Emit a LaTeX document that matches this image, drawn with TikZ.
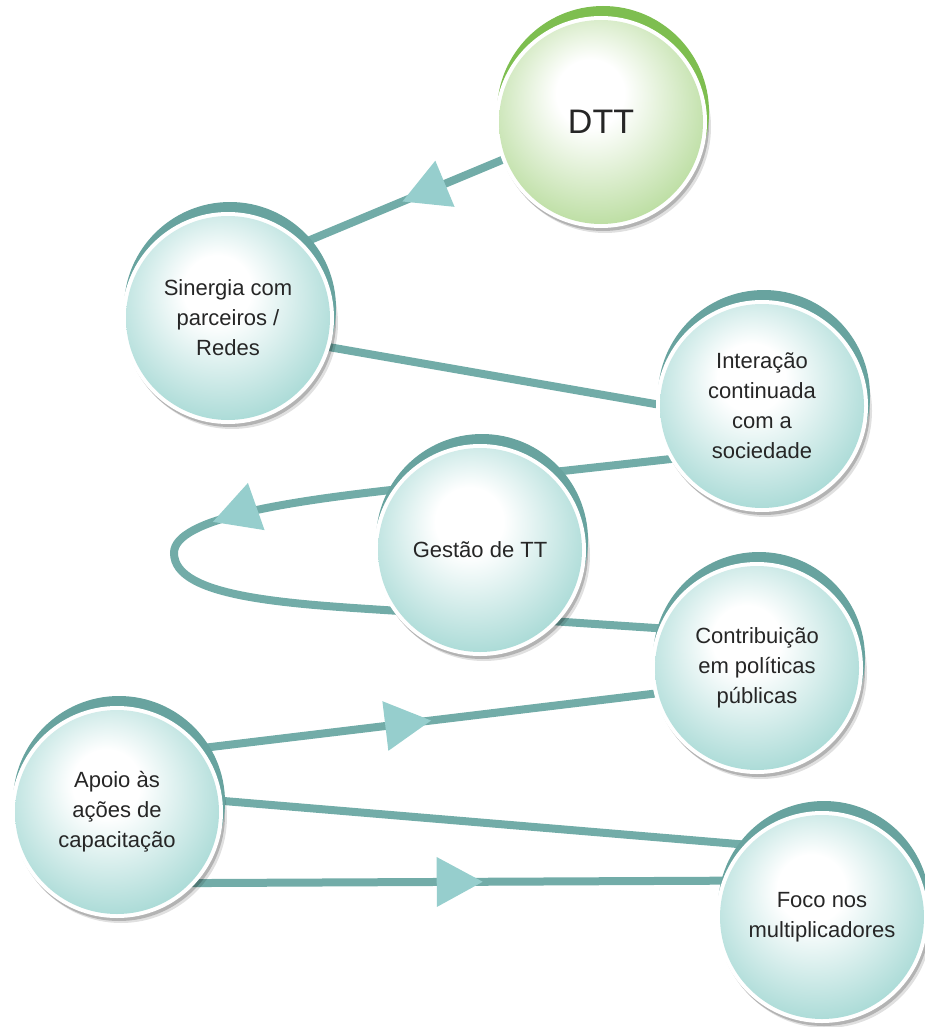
\documentclass[tikz,border=0pt]{standalone}
\usepackage{fontspec}
\setmainfont{Liberation Sans}
\usetikzlibrary{backgrounds,decorations.markings}

\definecolor{linkteal}{RGB}{114,172,168}
\definecolor{trifill}{RGB}{150,206,205}
\definecolor{ballteal}{RGB}{150,210,205}
\definecolor{crescteal}{RGB}{104,163,159}
\definecolor{ballgreen}{RGB}{172,214,140}
\definecolor{crescgreen}{RGB}{126,190,80}

\pgfdeclareradialshading{tealball}{\pgfpoint{-3bp}{8bp}}{color(0bp)=(white); color(8bp)=(white); color(33bp)=(ballteal); color(50bp)=(ballteal)}
\pgfdeclareradialshading{greenball}{\pgfpoint{-3bp}{8bp}}{color(0bp)=(white); color(8bp)=(white); color(33bp)=(ballgreen); color(50bp)=(ballgreen)}

\begin{document}
\begin{tikzpicture}[x=1pt, y=-1pt,
        bubble/.style 2 args={circle, minimum size=212pt, inner sep=0pt, fill=white,
            align=center, text=black!85, font=\fontsize{22}{30}\selectfont,
            preaction={fill=black, opacity=.12, transform canvas={shift={(4pt,-5pt)}}},
            preaction={fill=black, opacity=.2, transform canvas={shift={(2pt,-3pt)}}},
            preaction={fill=#1, transform canvas={shift={(2pt,10pt)}}},
            path picture={\shade[shading=#2] (path picture bounding box.center) circle (102pt);}},
        tealbubble/.style={bubble={crescteal}{tealball}},
        greenbubble/.style={bubble={crescgreen}{greenball}},
        link/.style={draw=linkteal, line width=8pt, shorten <=-4pt, shorten >=-4pt},
        midtri/.style={postaction={decorate, decoration={markings,
            mark=at position #1 with {\fill[trifill] (0,0) -- (-46,25) -- (-46,-25) -- cycle;}}}}]
    \useasboundingbox (0,0) rectangle (924,1027);
    % Bolle
    \node[greenbubble, font=\fontsize{34}{40}\selectfont] (dtt) at (601,122) {DTT};
    \node[tealbubble] (sin) at (228,318) {Sinergia com\\parceiros /\\Redes};
    \node[tealbubble] (inter) at (762,406) {Interação\\continuada\\com a\\sociedade};
    \node[tealbubble] (gest) at (480,550) {Gestão de TT};
    \node[tealbubble] (contr) at (757,668) {Contribuição\\em políticas\\públicas};
    \node[tealbubble] (apoio) at (117,812) {Apoio às\\ações de\\capacitação};
    \node[tealbubble] (foco) at (822,917) {Foco nos\\multiplicadores};
    % Collegamenti dietro le bolle
    \begin{pgfonlayer}{background}
        \draw[link, midtri=0.5] (dtt.201) -- (sin.45);
        \draw[link] (sin.-16) -- (inter.179);
        \draw[link, midtri=462pt] (inter.210) -- (400,489)
            .. controls (291,501) and (174,518) .. (174,553)
            .. controls (174,598) and (290,604) .. (400,611) -- (contr.158);
        \draw[link, midtri=0.507] (apoio.37) -- (contr.194);
        \draw[link] (apoio.6) -- (foco.137);
        \draw[link, midtri=0.545] (apoio.-42) -- (foco.160);
    \end{pgfonlayer}
\end{tikzpicture}
\end{document}
